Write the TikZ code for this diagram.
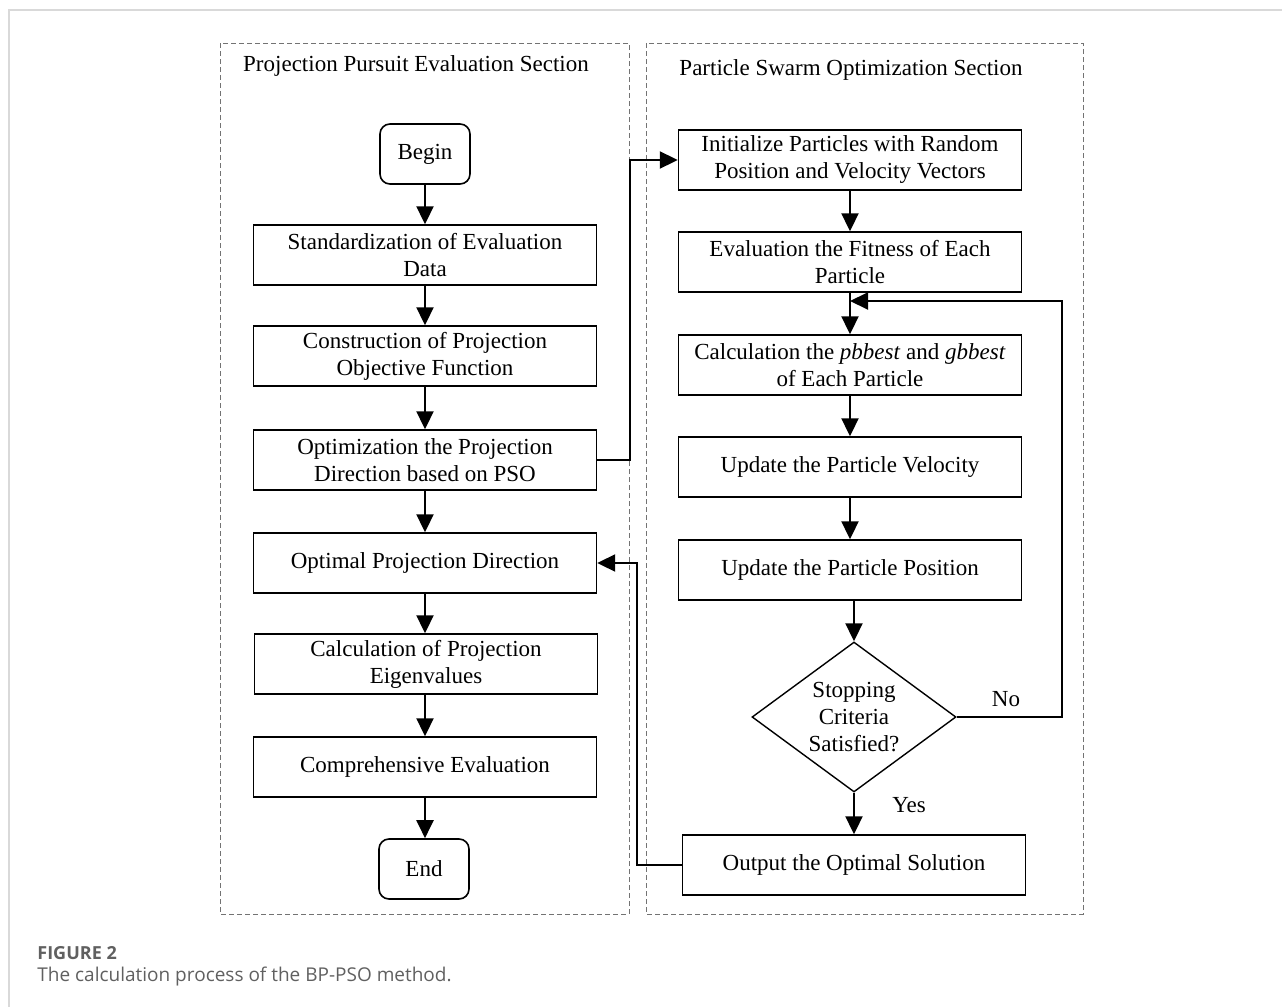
\documentclass[tikz,border=0pt]{standalone}
\usepackage{fontspec}
\setmainfont{Liberation Serif}
\newfontfamily\capfont{Open Sans}
\usetikzlibrary{arrows.meta,shapes.geometric}

\begin{document}
\begin{tikzpicture}[x=0.5pt, y=-0.5pt, font=\fontsize{11.5}{13.5}\selectfont]
        \tikzset{
            section/.style={draw=gray!90!black, dash pattern=on 2.5pt off 1.5pt, line width=0.5pt},
            procbox/.style={draw=black, line width=0.7pt, minimum width=171.5pt, minimum height=30pt, align=center, inner sep=2pt},
            termbox/.style={draw=black, line width=0.8pt, rounded corners=5pt, minimum width=45pt, minimum height=30pt},
            decision/.style={draw=black, line width=0.7pt, diamond, aspect=1.36, minimum width=102pt, minimum height=75pt, inner sep=0pt, align=center},
            flowarrow/.style={draw=black, line width=1pt, -{Triangle[length=9pt, width=8.5pt]}},
            pageline/.style={draw=gray!30, line width=1pt},
            captext/.style={font=\capfont\fontsize{9.5}{11}\selectfont, text=gray!75!black, anchor=west, inner sep=0pt}
        }
        \useasboundingbox (0,0) rectangle (1282,1007);

        % page frame and caption
        \draw[pageline] (9,1007) -- (9,10) -- (1282,10);
        \node[captext, font=\capfont\bfseries\fontsize{9}{11}\selectfont] (figno) at (37,953) {FIGURE 2};
        \node[captext] (figcap) at (37,977) {The calculation process of the BP-PSO method.};

        % the two sections
        \draw[section] (220,43) rectangle (629,914);
        \draw[section] (646,43) rectangle (1083,914);
        \node (pptitle) at (416,66) {Projection Pursuit Evaluation Section};
        \node (psotitle) at (851,70) {Particle Swarm Optimization Section};

        % projection pursuit column
        \node[termbox] (begin) at (425,154) {Begin};
        \node[procbox] (stddata) at (425,255) {Standardization of Evaluation\\Data};
        \node[procbox] (objfun) at (425,356) {Construction of Projection\\Objective Function};
        \node[procbox] (optdir) at (425,460) {Optimization the Projection\\Direction based on PSO};
        \node[procbox] (bestdir) at (425,563) {Optimal Projection Direction};
        \node[procbox] (eigen) at (426,664) {Calculation of Projection\\Eigenvalues};
        \node[procbox] (evalall) at (425,767) {Comprehensive Evaluation};
        \node[termbox] (finish) at (424,869) {End};

        % particle swarm column
        \node[procbox] (init) at (850,160) {Initialize Particles with Random\\Position and Velocity Vectors};
        \node[procbox] (fitness) at (850,262) {Evaluation the Fitness of Each\\Particle};
        \node[procbox] (pbest) at (850,365) {Calculation the \textit{pbbest} and \textit{gbbest}\\of Each Particle};
        \node[procbox] (velo) at (850,467) {Update the Particle Velocity};
        \node[procbox] (posi) at (850,570) {Update the Particle Position};
        \node[decision] (stop) at (854,717) {Stopping\\Criteria\\Satisfied?};
        \node[procbox] (output) at (854,865) {Output the Optimal Solution};
        \node (nolabel) at (1006,699) {No};
        \node (yeslabel) at (909,805) {Yes};
        \coordinate (merge) at (850,301);

        % connectors
        \draw[flowarrow] (begin) -- (stddata);
        \draw[flowarrow] (stddata) -- (objfun);
        \draw[flowarrow] (objfun) -- (optdir);
        \draw[flowarrow] (optdir) -- (bestdir);
        \draw[flowarrow] (bestdir) -- (eigen.north -| bestdir);
        \draw[flowarrow] (eigen.south -| bestdir) -- (evalall);
        \draw[flowarrow] (evalall) -- (finish.north -| evalall);

        \draw[flowarrow] (init) -- (fitness);
        \draw[flowarrow] (fitness) -- (pbest);
        \draw[flowarrow] (pbest) -- (velo);
        \draw[flowarrow] (velo) -- (posi);
        \draw[flowarrow] (posi.south -| stop) -- (stop);
        \draw[flowarrow] (stop) -- (output);
        \draw[flowarrow] (stop.east) -- (1062,717) |- (merge);

        \draw[flowarrow] (optdir.east) -- (630,460) |- (init.west);
        \draw[flowarrow] (output.west) -- (637,865) |- (bestdir.east);
    \end{tikzpicture}
\end{document}
